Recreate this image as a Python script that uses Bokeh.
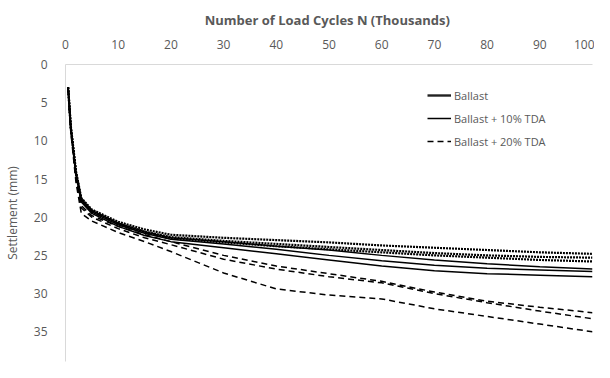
from bokeh.plotting import figure
from bokeh.models import Range1d, Legend, LegendItem, FixedTicker
from bokeh.embed import file_html
from bokeh.resources import INLINE

# Load cycles (thousands)
cycles = [0.5, 1, 2, 3, 5, 10, 15, 20, 30, 40, 50, 60, 70, 80, 90, 100]

# Ballast (three tests)
ballast_a = [3.0, 8.0, 14.0, 17.5, 19.0, 20.6, 21.6, 22.3, 22.7, 23.0, 23.3, 23.7, 24.0, 24.3, 24.6, 24.8]
ballast_b = [3.0, 8.2, 14.2, 17.7, 19.2, 20.8, 21.9, 22.6, 23.1, 23.5, 23.9, 24.3, 24.7, 25.0, 25.2, 25.3]
ballast_c = [3.0, 8.3, 14.4, 17.8, 19.3, 20.9, 22.0, 22.8, 23.3, 23.8, 24.2, 24.6, 25.0, 25.3, 25.6, 25.8]

# Ballast + 10% TDA
tda10_a = [3.0, 8.1, 14.2, 17.6, 19.1, 20.8, 21.9, 22.7, 23.2, 23.8, 24.3, 25.0, 25.6, 26.1, 26.5, 26.8]
tda10_b = [3.0, 8.2, 14.3, 17.8, 19.3, 21.0, 22.1, 22.9, 23.5, 24.2, 25.0, 25.7, 26.3, 26.7, 26.9, 27.1]
tda10_c = [3.0, 8.4, 14.5, 18.0, 19.5, 21.2, 22.4, 23.2, 24.0, 24.8, 25.6, 26.4, 27.0, 27.4, 27.6, 27.8]

# Ballast + 20% TDA
tda20_a = [3.0, 8.5, 14.8, 18.5, 19.8, 21.2, 22.3, 23.2, 25.0, 26.4, 27.4, 28.4, 29.8, 31.0, 31.8, 32.5]
tda20_b = [3.0, 8.6, 15.0, 18.8, 20.0, 21.5, 22.7, 23.6, 25.5, 26.8, 27.8, 28.6, 30.0, 31.2, 32.3, 33.3]
tda20_c = [3.0, 8.8, 15.5, 19.5, 20.5, 22.0, 23.2, 24.5, 27.3, 29.4, 30.2, 30.7, 32.0, 33.0, 34.0, 35.0]

x_ticks = [0, 10, 20, 30, 40, 50, 60, 70, 80, 90, 100]
y_ticks = [0, 5, 10, 15, 20, 25, 30, 35, 40]

FONT = "Open Sans"
GRAY = "#595959"

p = figure(width=594, height=362, output_backend="svg", toolbar_location=None,
           x_axis_location="above",
           x_range=Range1d(0, 100), y_range=Range1d(38.9, 0),
           min_border_left=61, min_border_right=2, min_border_top=64, min_border_bottom=1)
p.outline_line_color = None
p.xgrid.grid_line_color = None
p.ygrid.grid_line_color = None
p.background_fill_color = "white"
p.border_fill_color = "white"

for ax in (p.xaxis[0], p.yaxis[0]):
    ax.axis_line_color = "#d9d9d9"
    ax.axis_line_width = 1
    ax.major_tick_line_color = None
    ax.minor_tick_line_color = None
    ax.major_label_text_font = FONT
    ax.major_label_text_font_size = "12px"
    ax.major_label_text_color = GRAY
    ax.axis_label_text_font = FONT
    ax.axis_label_text_color = GRAY
    ax.axis_label_text_font_style = "normal"

p.xaxis.ticker = FixedTicker(ticks=x_ticks)
p.yaxis.ticker = FixedTicker(ticks=y_ticks)
p.xaxis.axis_label = "Number of Load Cycles  N (Thousands)"
p.xaxis.axis_label_text_font_size = "13px"
p.xaxis.axis_label_text_font_style = "bold"
p.xaxis.axis_label_standoff = 8
p.yaxis.axis_label = "Settlement (mm)"
p.yaxis.axis_label_text_font_size = "12px"
p.yaxis.axis_label_standoff = 10
p.xaxis.major_label_standoff = 10
p.yaxis.major_label_standoff = 12

r_b = [p.line(cycles, s, line_color="black", line_width=2.2, line_dash="2 1")
       for s in (ballast_a, ballast_b, ballast_c)]
r_10 = [p.line(cycles, s, line_color="black", line_width=1.5)
        for s in (tda10_a, tda10_b, tda10_c)]
r_20 = [p.line(cycles, s, line_color="black", line_width=1.5, line_dash="6 4")
        for s in (tda20_a, tda20_b, tda20_c)]

# legend-only sample for Ballast (thicker solid, as in the reference legend),
# placed outside the visible range
r_b_key = p.line([-30, -20], [60, 60], line_color="#222222", line_width=2.4)

legend_items = [
    LegendItem(label="Ballast", renderers=[r_b_key]),
    LegendItem(label="Ballast + 10% TDA", renderers=[r_10[1]]),
    LegendItem(label="Ballast + 20% TDA", renderers=[r_20[0]]),
]
legend = Legend(items=legend_items, location=(362, 210),
                label_text_font=FONT, label_text_font_size="11px",
                label_text_color=GRAY, border_line_color=None,
                background_fill_alpha=0, glyph_width=24, spacing=3,
                label_standoff=3)
p.add_layout(legend, "center")

open("out.html", "w").write(file_html(p, INLINE))
